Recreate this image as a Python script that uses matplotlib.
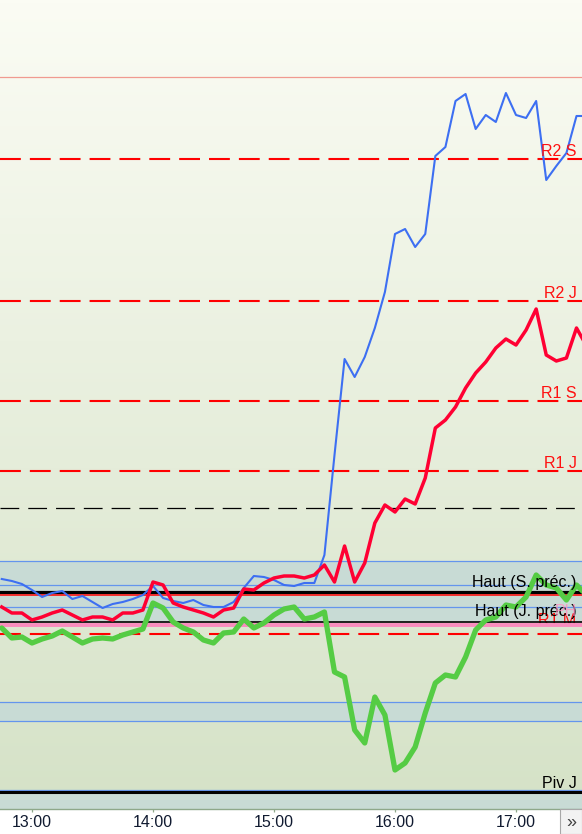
import matplotlib
matplotlib.use("Agg")
import matplotlib.pyplot as plt
import matplotlib.dates as mdates
import matplotlib.transforms as mtransforms
from matplotlib.patches import Rectangle
import numpy as np
import pandas as pd

plt.rcParams["font.family"] = ["Liberation Sans", "DejaVu Sans"]
plt.rcParams["lines.scale_dashes"] = False

# 5-minute bars, 12:45 -> 17:35
times = pd.date_range("2024-01-01 12:45", periods=59, freq="5min")

price_blue = [421, 419, 416, 410, 403, 407, 409, 401, 404, 398,
              392, 396, 398, 401, 405, 414, 402, 399, 397, 400,
              395, 393, 393, 398, 412, 424, 423, 420, 415, 414,
              417, 417, 445, 545, 641, 623, 643, 672, 708, 766,
              771, 753, 766, 844, 853, 899, 906, 871, 885, 878,
              907, 885, 882, 899, 820, 834, 847, 884, 884]
price_red = [393, 387, 387, 380, 383, 387, 390, 385, 380, 383,
             383, 380, 387, 387, 390, 418, 415, 397, 393, 390,
             387, 383, 390, 392, 411, 410, 417, 422, 424, 424,
             422, 425, 435, 418, 454, 418, 437, 477, 495, 488,
             501, 496, 522, 572, 580, 593, 612, 627, 638, 652,
             661, 655, 670, 691, 645, 639, 642, 672, 654]
price_green = [372, 362, 363, 357, 361, 364, 369, 363, 357, 361,
               362, 361, 365, 368, 371, 397, 392, 378, 372, 368,
               360, 357, 367, 368, 381, 372, 377, 385, 391, 393,
               381, 383, 388, 328, 323, 270, 257, 303, 285, 230,
               237, 253, 287, 317, 325, 323, 343, 370, 380, 383,
               395, 393, 403, 425, 415, 412, 400, 415, 405]

# reference levels
resist_labels = ["R2 S", "R2 J", "R1 S", "R1 J", "R1 M"]
resist_levels = [841, 699, 599, 529, 366]
top_level = 923
mid_level = 492
band_lines = [439, 415, 393, 298, 279, 210]
bands = [(378, 439), (279, 298), (150, 210)]
haut_s = 408
haut_s_red = 405.5
haut_j = 378
pink_level = 375
piv_j = 208

fig = plt.figure(figsize=(5.82, 8.34), dpi=100)
ax = fig.add_axes([0, 25 / 834, 1, 809 / 834])

# x range: 13:00 sits at 32 px, 121 px per hour
t13 = pd.Timestamp("2024-01-01 13:00")
x_left = t13 - pd.Timedelta(hours=32 / 121)
x_right = t13 + pd.Timedelta(hours=550 / 121)
ax.set_xlim(x_left, x_right)
ax.set_ylim(191, 1000)

# background gradient
top_c = np.array([251, 252, 244]) / 255
bot_c = np.array([213, 226, 199]) / 255
g = np.linspace(0, 1, 256)[:, None]
grad = top_c * (1 - g) + bot_c * g
ax.imshow(grad[:, None, :], extent=[0, 1, 0, 1], transform=ax.transAxes,
          aspect="auto", zorder=0)

for lo, hi in bands:
    ax.axhspan(lo, hi, color="#c8dbd5", lw=0, zorder=1)
for v in band_lines:
    ax.axhline(v, color="#6495ed", lw=0.9, zorder=2)

ax.axhline(top_level, color="#f09a90", lw=0.9, zorder=2)
ax.axhline(mid_level, color="black", lw=0.9, dashes=(13.5, 6.5), zorder=2)

for v in resist_levels:
    ax.axhline(v, color="#ff0000", lw=1.5, dashes=(15, 6.5), zorder=2)

ax.axhline(haut_s, color="black", lw=2.3, zorder=3)
ax.axhline(haut_s_red, color="#ff0000", lw=1.1, zorder=3)
ax.axhline(haut_j, color="black", lw=1.2, zorder=3)
ax.axhline(piv_j, color="black", lw=2.2, zorder=3)

trans = mtransforms.blended_transform_factory(ax.transAxes, ax.transData)


def label(y, text, color, dy=2.5, z=7, **kw):
    ax.annotate(text, xy=(1, y), xycoords=trans, xytext=(-3.8, dy),
                textcoords="offset points", ha="right", va="baseline",
                color=color, fontsize=11.5, zorder=z, **kw)


for name, v in zip(resist_labels[:4], resist_levels[:4]):
    label(v, name, "#ff1010")
label(resist_levels[4], "R1 M", "#ff1010", dy=6.5, z=2.5)
label(haut_s, "Haut (S. préc.)", "black", dy=3.8)
label(haut_j, "Haut (J. préc.)", "black", dy=4.3)
label(haut_j, "PH", "#ff8fc0", dy=4.3, alpha=0.8)
label(piv_j, "Piv J", "black", dy=3.0)

ax.plot(times, price_green, color="#55cc44", lw=3.8, zorder=4,
        solid_joinstyle="round", solid_capstyle="round")
ax.plot(times, price_blue, color="#3d6ff2", lw=1.5, zorder=5)
ax.plot(times, price_red, color="#ff0033", lw=2.5, zorder=6)

ax.axhline(pink_level, color="#fa8cbe", lw=2.8, zorder=3.5)

ax.xaxis.set_major_locator(mdates.HourLocator())
ax.xaxis.set_major_formatter(mdates.DateFormatter("%H:%M"))
ax.tick_params(axis="x", length=2.5, width=0.9, color="#8ea88a", pad=1.8,
               labelsize=11.5, labelcolor="#101a30")
ax.set_yticks([])
for s in ["top", "left", "right"]:
    ax.spines[s].set_visible(False)
ax.spines["bottom"].set_color("#8ea88a")
ax.spines["bottom"].set_linewidth(1.0)

# scroll button at bottom right
fig.patches.append(Rectangle((560 / 582, 0), 22 / 582, 25 / 834,
                             transform=fig.transFigure, fc="#f2f2f2",
                             ec="#a8a8a8", lw=0.8))
fig.text(571 / 582, 12 / 834, "»", ha="center", va="center",
         fontsize=13, color="#404040")

fig.savefig("out.png", dpi=100)
